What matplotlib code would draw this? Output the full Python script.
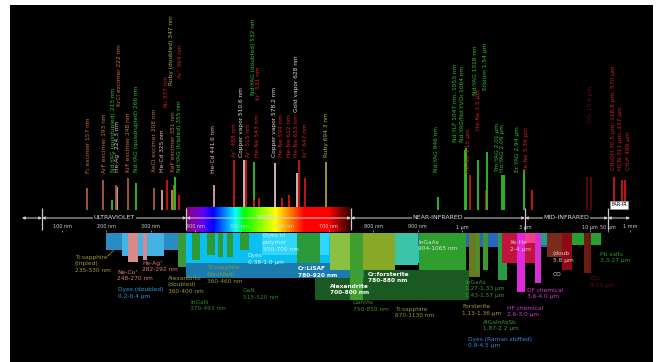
import numpy as np
import matplotlib
matplotlib.use("Agg")
import matplotlib.pyplot as plt
from matplotlib.ticker import NullLocator

# ---------------- data ----------------
# discrete laser lines
line_names = [
    "F₂ excimer 157 nm", "ArF excimer 193 nm", "Nd:YAG (quintupled) 213 nm", "He-Ag⁺ 224.3 nm",
    "KrCl excimer 222 nm", "KrF excimer 248 nm", "Nd:YAG (quadrupled) 266 nm", "XeCl excimer 308 nm",
    "He-Cd 325 nm", "N₂ 337 nm", "XeF excimer 351 nm", "Ruby (doubled) 347 nm",
    "Nd:YAG (tripled) 355 nm", "Ar⁺ 364 nm", "He-Cd 441.6 nm", "Ar⁺ 488 nm",
    "Copper vapor 510.6 nm", "Ar⁺ 515 nm", "Nd:YAG (doubled) 532 nm", "Kr⁺ 531 nm",
    "He-Ne 543 nm", "Copper vapor 578.2 nm", "He-Ne 594 nm", "He-Ne 612 nm",
    "Gold vapor 628 nm", "He-Ne 633 nm", "Kr⁺ 647 nm", "Ruby 694.3 nm",
    "Nd:YAG 946 nm", "Nd:YLF 1047 nm, 1053 nm", "Nd:YAG/Nd:YVO₄ 1064 nm", "He-Ne 1.15 µm",
    "Nd:YAG 1319 nm", "He-Ne 1.5 µm", "Erbium 1.54 µm", "Tm:YAG 2.01 µm",
    "Ho:YAG 2.09 µm", "Er:YAG 2.94 µm", "He-Ne 3.39 µm", "CO₂ 9.4 µm",
    "CO₂ 10.6 µm", "CH₃OH 70.5 µm, 118.8 µm, 570 µm", "HCN 311 µm, 337 µm", "CH₃F 496 µm",
]
line_nm = [
    157, 193, 213, 224.3, 222, 248, 266, 308, 325, 337.1, 351, 347, 355, 363.8,
    441.6, 488.0, 510.6, 514.5, 532, 530.9, 543.5, 578.2, 594.1, 611.8, 628, 632.8,
    647.1, 694.3, 946, 1047, 1064, 1150, 1319, 1523, 1540, 2010, 2090, 2940, 3390,
    9400, 10600, 118800, 337000, 496000,
]
line_kind = [
    "exc", "exc", "ss", "mv", "exc", "exc", "ss", "exc", "mv", "ion", "exc", "ruby",
    "ss", "ion", "mv", "ion", "cu", "ion", "ss", "ion", "ion", "cu", "ion", "ion",
    "cu", "ion", "ion", "ruby", "ss", "ss", "ss", "ion", "ss", "ion", "ss", "ss",
    "ss", "ss", "ion", "ir", "ir", "ion", "ion", "ion",
]

# tunable / continuous ranges (nm)
band_lo = [200, 235, 360, 248, 282, 380, 670, 380, 550, 360, 392, 426, 451, 471, 500, 629,
           900, 703, 748, 777, 849, 904, 3300, 1130, 1270, 1430, 1870, 2000, 2900, 2600,
           3600, 4000, 4500, 6000, 9000]
band_hi = [400, 330, 460, 270, 292, 1000, 1130, 780, 700, 380, 410, 444, 462, 485, 520, 681,
           4500, 748, 777, 849, 901, 1065, 27000, 1360, 1330, 1570, 2200, 4000, 3700, 3000,
           4000, 4500, 6000, 7200, 11000]

band_texts = [
    "Ti:sapphire\n(tripled)\n235-330 nm", "Ne-Cu⁺\n248-270 nm", "He-Ag⁺\n282-292 nm",
    "Dyes (doubled)\n0.2-0.4 µm", "Alexandrite\n(doubled)\n360-400 nm",
    "Ti:sapphire\n(doubled)\n360-460 nm", "InGaN\n370-493 nm", "GaN\n515-520 nm",
    "Dyes\n0.38-1.0 µm", "Dyes in\npolymer\n550-700 nm", "Cr:LiSAF\n780-920 nm",
    "Alexandrite\n700-800 nm", "Cr:forsterite\n780-880 nm", "GaAlAs\n750-850 nm",
    "Ti:sapphire\n670-1130 nm", "InGaAs\n904-1065 nm", "InGaAs\n1.27-1.33 µm\n1.43-1.57 µm",
    "Forsterite\n1.13-1.36 µm", "AlGaInAsSb\n1.87-2.2 µm", "Dyes (Raman shifted)\n0.9-4.5 µm",
    "HF chemical\n2.6-3.0 µm", "DF chemical\n3.6-4.0 µm", "Xe-He\n2-4 µm",
    "(doub\n5.8 µm", "CO", "Pb salts\n3.3-27 µm", "CO₂\n9-11 µm",
]

region_names = ["", "ULTRAVIOLET", "VISIBLE", "NEAR-INFRARED", "MID-INFRARED", ""]
region_edges = [1, 10, 380, 750, 3000, 50000, 1e6]

tick_nm = [100, 200, 300, 400, 500, 600, 700, 800, 900, 1000, 3000, 10000, 50000, 1e6]
tick_labels = ["100 nm", "200 nm", "300 nm", "400 nm", "500 nm", "600 nm", "700 nm",
               "800 nm", "900 nm", "1 µm", "3 µm", "10 µm", "50 µm", "1 mm"]

# ---------------- layout / style ----------------
line_top = [30, 38, 18, 31, 33, 40, 35, 30, 28, 38, 33, 28, 41, 23, 33, 58, 58, 58, 56, 18,
            20, 55, 20, 23, 45, 58, 40, 56, 21, 68, 70, 43, 58, 28, 66, 43, 43, 48, 28, 41,
            41, 41, 38, 38]
label_base = [45, 45, 46, 46, 112, 46, 46, 46, 46, 111, 46, 133, 46, 140, 45, 61, 61, 61,
              123, 118, 61, 61, 61, 61, 106, 61, 61, 61, 46, 76, 76, 45, 123, 88, 128, 46,
              46, 46, 46, 0, 95, 48, 48, 48]
label_dx = [1, 1, 1, 0, 3, 1, 1, 0, 1, -1, 0, 0, 4, 1, 0, 0, -3, 2.5, -1, 5, -2, 0, 0, 0,
            0, -2, 0, 0, -1, -9, -4, -2, -2, -8, -1.5, -5, -1.5, -6, -5, 0, 0, -1, -2, 4]

LINE_C = {"exc": "#a85e3a", "ss": "#2cc42c", "ion": "#d01414", "mv": "#dca2b4",
          "cu": "#d8c4ca", "ruby": "#a4a42c", "ir": "#5c0a0a"}
TEXT_C = {"exc": "#c8743a", "ss": "#34be34", "ion": "#d42020", "mv": "#e4bccb",
          "cu": "#e8dce0", "ruby": "#b0b040", "ir": "#6a1010"}

band_top = [233] * 35
band_bot = [250, 256, 262, 262, 260, 263, 300, 278, 255, 267, 260, 255, 257, 257, 250, 263,
            247, 270, 300, 270, 265, 270, 245, 277, 273, 270, 280, 263, 243, 292,
            283, 245, 257, 270, 273]
band_top[6] = 270
band_top[7] = 263
band_color = ["#2a8cc4", "#44b2e2", "#3cb6ea", "#d88a8a", "#d88a8a", "#0ac0f0", "#1a5a20",
              "#1a7cae", "#30d6fc", "#3a9a3a", "#2e9a36", "#2e9a36", "#2e9a36", "#2e9a36",
              "#2e9a36", "#2a9a3a", "#2a68c0", "#8cc040", "#3e9e30", "#88a828", "#3cc4a8",
              "#2e9e2e", "#28a030", "#6a7a22", "#3a9a30", "#3a9a30", "#2c9a44", "#c0143c",
              "#f0408c", "#e028dc", "#d830d0", "#20a08c", "#7a2c1c", "#8c0a14", "#6a1a12"]

text_nm = [129, 224, 280, 226, 338, 426, 388, 507, 518, 552, 631, 703, 788, 755, 849, 901,
           1054, 1000, 1443, 1110, 2193, 3112, 2307, 5035, 5035, 24400, 10000]
text_px = [258, 273, 264, 291, 279, 269, 303, 292, 257, 237, 270, 287, 275, 304, 310, 243,
           283, 308, 323, 340, 309, 291, 244, 255, 275, 255, 280]
text_color = ["#a09a30", "#e07a7a", "#e07a7a", "#2a9ee0", "#9a9a30", "#8a9a30", "#2a8a2a",
              "#2a8a2a", "#c8f4ff", "#c8f4ff", "#ffffff", "#ffffff", "#ffffff", "#4a8a28",
              "#8a9a24", "#d0f0d0", "#3a9a30", "#a0a030", "#3a9a30", "#3a88e0", "#d838d8",
              "#d838d8", "#f0c0d0", "#f0c8d0", "#f0c8d0", "#2a9a2a", "#5a1010"]
text_bold = [False] * 27
for i in (10, 11, 12):
    text_bold[i] = True

# ---------------- wavelength axis ----------------
K = 400.0 / 900.0
LO_LOG, LO_PX = [-6, 0, 1, 2], [-100, 22, 42, 62]
HI_LOG, HI_PX = [3, np.log10(3000), 4, np.log10(5e4), 6, 9], [462, 525, 590, 608, 630, 690]


def fwd(w):
    w = np.asarray(w, dtype=float)
    lw = np.log10(np.clip(w, 1e-6, None))
    return np.where(w < 100, np.interp(lw, LO_LOG, LO_PX),
                    np.where(w <= 1000, 62 + (w - 100) * K, np.interp(lw, HI_LOG, HI_PX)))


def inv(p):
    p = np.asarray(p, dtype=float)
    return np.where(p < 62, 10 ** np.interp(p, LO_PX, LO_LOG),
                    np.where(p <= 462, 100 + (p - 62) / K, 10 ** np.interp(p, HI_PX, HI_LOG)))


def spectrum_rgb(w):
    if w < 440:
        r, g, b = -(w - 440) / 60, 0.0, 1.0
    elif w < 490:
        r, g, b = 0.0, (w - 440) / 50, 1.0
    elif w < 510:
        r, g, b = 0.0, 1.0, -(w - 510) / 20
    elif w < 580:
        r, g, b = (w - 510) / 70, 1.0, 0.0
    elif w < 645:
        r, g, b = 1.0, -(w - 645) / 65, 0.0
    else:
        r, g, b = 1.0, 0.0, 0.0
    if w < 420:
        f = 0.45 + 0.55 * (w - 380) / 40
    elif w > 700:
        f = max(0.0, 1 - 0.85 * (w - 700) / 50)
    else:
        f = 1.0
    return (r * f, g * f, b * f)


fig = plt.figure(figsize=(6.62, 3.62), dpi=100, facecolor="white")
ax = fig.add_axes([10 / 662, 0, 643 / 662, 357 / 362])
ax.set_facecolor("black")
ax.set_xscale("function", functions=(fwd, inv))
ax.set_xlim(float(inv(10)), float(inv(653)))
ax.set_ylim(-144, 213)
for a in (ax.xaxis, ax.yaxis):
    a.set_major_locator(NullLocator())
    a.set_minor_locator(NullLocator())
for s in ax.spines.values():
    s.set_visible(False)

FS = 4.2


def ypx(p):
    return 218 - p


# laser lines and their labels
for name, nm, kind, top, base, dx in zip(line_names, line_nm, line_kind, line_top, label_base, label_dx):
    ax.vlines(nm, 8, top, color=LINE_C[kind], lw=1.3, zorder=1)
    if base > 0:
        ax.annotate(name, xy=(nm, base), xytext=(dx, 0), textcoords="offset pixels",
                    rotation=90, ha="center", va="bottom", fontsize=FS,
                    color=TEXT_C[kind], zorder=3)

# visible spectrum strip
wl = np.arange(380, 750, 1.0)
ax.bar(wl, 25, width=1.0, bottom=-14, align="edge", color=[spectrum_rgb(w) for w in wl],
       linewidth=0, zorder=2)

# tunable ranges
for lo, hi, t, b, c in zip(band_lo, band_hi, band_top, band_bot, band_color):
    ax.bar(lo, ypx(t) - ypx(b), width=hi - lo, bottom=ypx(b), align="edge", color=c,
           linewidth=0, zorder=2)

for txt, nm, p, c, bold in zip(band_texts, text_nm, text_px, text_color, text_bold):
    ax.text(nm, ypx(p - 3.5), txt, ha="left", va="top", fontsize=FS, color=c,
            linespacing=1.4, fontweight="bold" if bold else "normal", zorder=6)

# leader from the tripled Ti:sapphire label to its range
ax.plot([float(inv(108)), float(inv(114))], [ypx(256), ypx(250)], color="#a09a30", lw=0.5, zorder=6)

# region arrows
for a, b, name in zip(region_edges[:-1], region_edges[1:], region_names):
    ax.annotate("", xy=(a, 0), xytext=(b, 0),
                arrowprops=dict(arrowstyle="<|-|>", color="#d4d4d4", lw=0.7,
                                shrinkA=0, shrinkB=0, mutation_scale=4), zorder=4)
    if name:
        mid = float(inv((fwd(a) + fwd(b)) / 2))
        box = None if name == "VISIBLE" else dict(facecolor="black", edgecolor="none", pad=0.6)
        ax.text(mid, 0.5, name, ha="center", va="center", fontsize=4.5, color="#e0e0e0",
                bbox=box, zorder=5)
ax.vlines(region_edges[1:-1], -12, 10, color="#c8c8c8", lw=0.9, zorder=4)
fir_mid = float(inv((fwd(5e4) + fwd(1e6)) / 2))
ax.text(fir_mid, 13, "FAR-IR", ha="center", va="center", fontsize=3.6, color="black",
        bbox=dict(facecolor="white", edgecolor="#909090", pad=0.8, lw=0.5), zorder=6)

# tick labels
for nm, lab in zip(tick_nm, tick_labels):
    ax.text(nm, -9, lab, ha="center", va="center", fontsize=3.5, color="#cfcfcf", zorder=5)
ax.vlines(tick_nm, -14, -11.5, color="#bdbdbd", lw=0.5, zorder=5)

fig.savefig("out.png", dpi=100, facecolor="white")
